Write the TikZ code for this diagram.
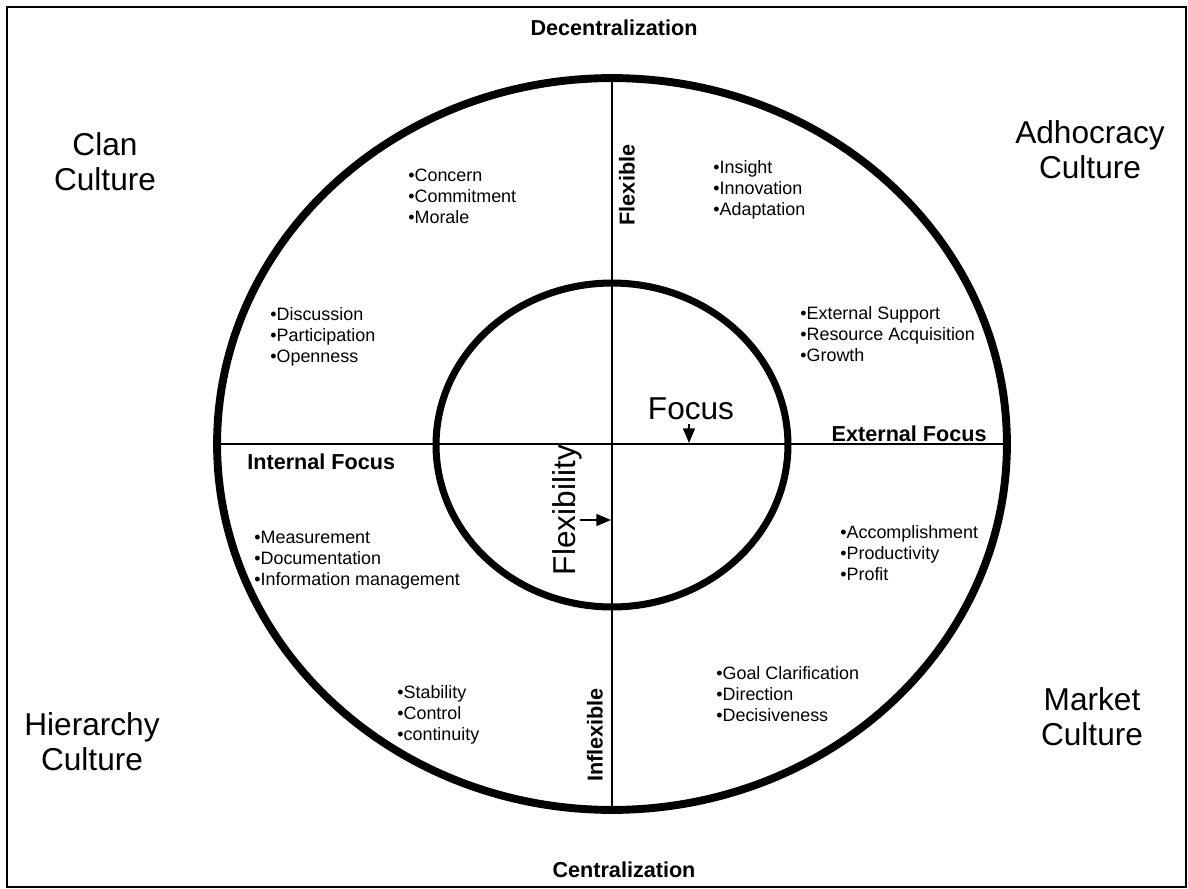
\documentclass[tikz,border=0pt]{standalone}
\usepackage{fontspec}
\setmainfont{Liberation Sans}
\usetikzlibrary{positioning,arrows}
\usetikzlibrary{shapes.geometric}
\tikzstyle{ring}=[draw, ellipse, line width=4.5pt, inner sep=0pt, outer sep=0pt]
\tikzstyle{items}=[align=left, inner sep=0pt, anchor=north west, font=\fontsize{10.2}{11.9}\selectfont]
\tikzstyle{culture}=[align=center, inner sep=0pt, font=\fontsize{18}{20}\selectfont]
\tikzstyle{axislabel}=[inner sep=0pt, font=\fontsize{12.3}{14}\selectfont\bfseries]
\tikzstyle{axis}=[line width=1.1pt]
\tikzstyle{pointer}=[-triangle 45, line width=0.9pt]

\begin{document}
\begin{tikzpicture}[x=0.02cm, y=-0.02cm]
	\useasboundingbox (0,0) rectangle (1188,889);
	\draw[line width=0.9pt] (7,7) rectangle (1186,887);

	% the two rings and the axes
	\node[ring, minimum width=15.8cm, minimum height=14.64cm] (outer) at (612,444) {};
	\node[ring, line width=4pt, minimum width=7.04cm, minimum height=6.48cm] (inner) at (612,445) {};
	\draw[axis] (outer.west) -- (outer.east);
	\draw[axis] (outer.north) -- (outer.south);

	% axis labels
	\node[axislabel] (decen) at (614,28) {Decentralization};
	\node[axislabel] (cen) at (624,870) {Centralization};
	\node[axislabel, rotate=90] (flexible) at (627,185) {Flexible};
	\node[axislabel, rotate=90] (inflexible) at (595,735) {Inflexible};
	\node[axislabel, anchor=east] (extfocus) at (987,434) {External Focus};
	\node[axislabel, anchor=west] (intfocus) at (247,462) {Internal Focus};

	% cultures
	\node[culture] (clan) at (105,162) {Clan\\Culture};
	\node[culture] (adhoc) at (1090,150) {Adhocracy\\Culture};
	\node[culture] (hier) at (92,742) {Hierarchy\\Culture};
	\node[culture] (market) at (1092,717) {Market\\Culture};

	% focus and flexibility
	\node[culture] (focus) at (691,409) {Focus};
	\coordinate (focustop) at (689,424);
	\coordinate (focuspt) at (689,443);
	\draw[pointer] (focustop) -- (focuspt);
	\node[culture, rotate=90] (flexibility) at (567,510) {Flexibility};
	\coordinate (flexleft) at (580,520);
	\coordinate (flexpt) at (611,520);
	\draw[pointer] (flexleft) -- (flexpt);

	% quadrant items
	\node[items] (clan1) at (408,169) {\textbullet Concern\\\textbullet Commitment\\\textbullet Morale};
	\node[items] (clan2) at (270,307) {\textbullet Discussion\\\textbullet Participation\\\textbullet Openness};
	\node[items] (adhoc1) at (713,160) {\textbullet Insight\\\textbullet Innovation\\\textbullet Adaptation};
	\node[items] (adhoc2) at (800,306) {\textbullet External Support\\\textbullet Resource Acquisition\\\textbullet Growth};
	\node[items] (hier1) at (254,531) {\textbullet Measurement\\\textbullet Documentation\\\textbullet Information management};
	\node[items] (hier2) at (397,685) {\textbullet Stability\\\textbullet Control\\\textbullet continuity};
	\node[items] (market1) at (840,525) {\textbullet Accomplishment\\\textbullet Productivity\\\textbullet Profit};
	\node[items] (market2) at (716,666) {\textbullet Goal Clarification\\\textbullet Direction\\\textbullet Decisiveness};
\end{tikzpicture}
\end{document}
